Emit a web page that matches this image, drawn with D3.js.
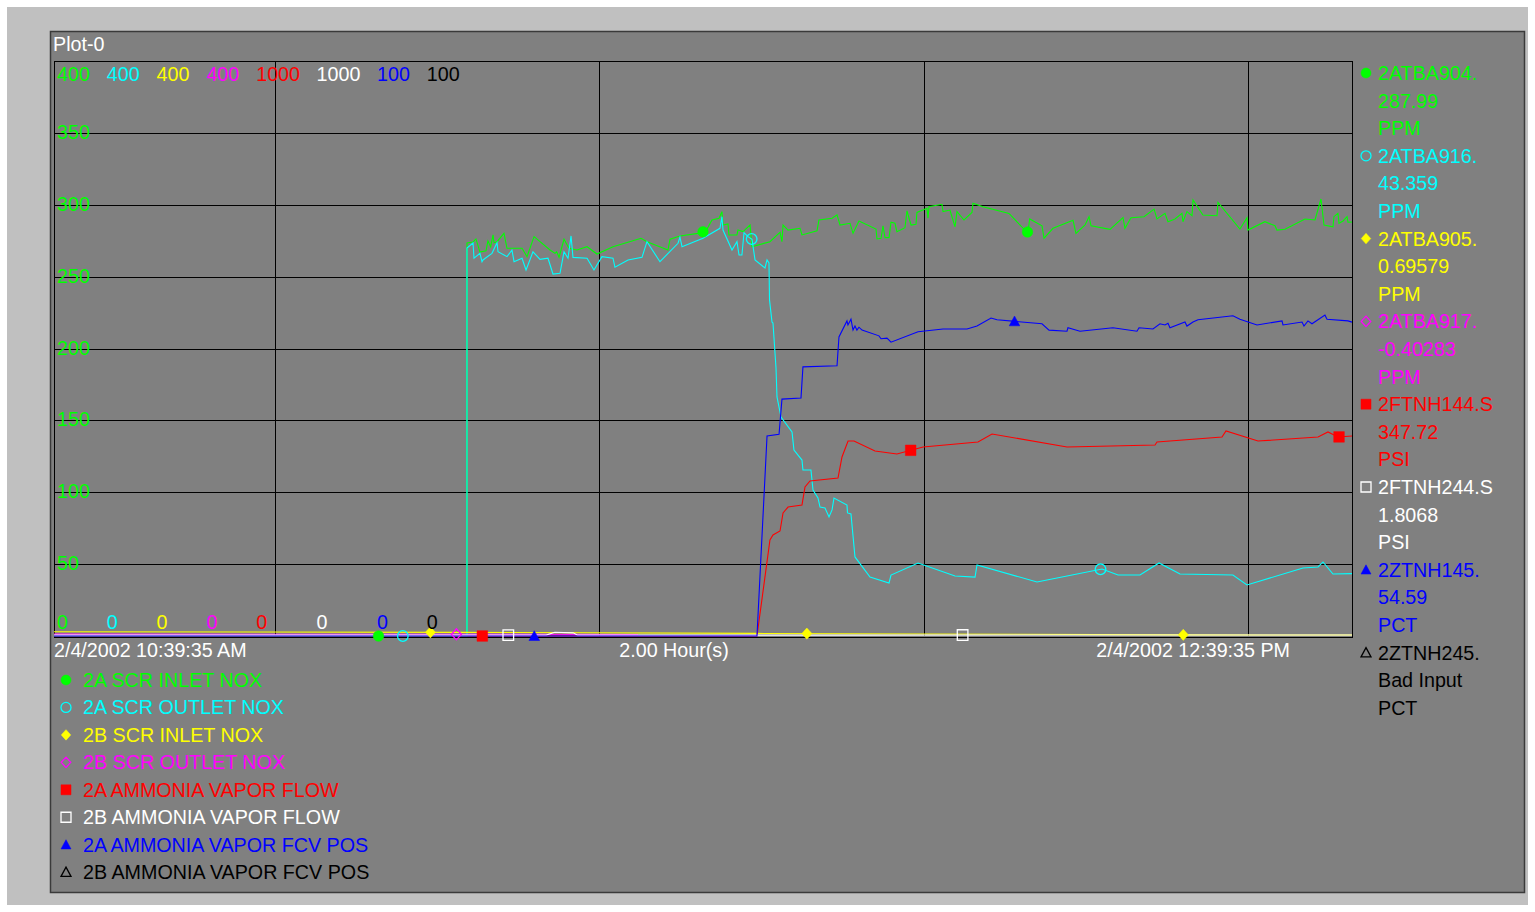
<!DOCTYPE html>
<html>
<head>
<meta charset="utf-8">
<script src="https://cdn.jsdelivr.net/npm/d3@7"></script>
<style>
  body { margin: 0; background: #ffffff; }
  svg { display: block; }
  text { font-family: "Liberation Sans", Arial, Helvetica, sans-serif; font-size: 19.7px; }
</style>
</head>
<body>
<svg id="chart" width="1535" height="912"></svg>
<script>
// ---- trend window ----
const startTime = new Date(2002, 1, 4, 10, 39, 35);
const endTime   = new Date(2002, 1, 4, 12, 39, 35);
const startLabel = "2/4/2002 10:39:35 AM";
const endLabel   = "2/4/2002 12:39:35 PM";
const spanLabel  = "2.00 Hour(s)";
const plotTitle  = "Plot-0";

// ---- pens ----
const tags = ["2ATBA904.", "2ATBA916.", "2ATBA905.", "2ATBA917.", "2FTNH144.S", "2FTNH244.S", "2ZTNH145.", "2ZTNH245."];
const currentValues = ["287.99", "43.359", "0.69579", "-0.40283", "347.72", "1.8068", "54.59", "Bad Input"];
const units = ["PPM", "PPM", "PPM", "PPM", "PSI", "PSI", "PCT", "PCT"];
const descriptions = ["2A SCR INLET NOX", "2A SCR OUTLET NOX", "2B SCR INLET NOX", "2B SCR OUTLET NOX",
                      "2A AMMONIA VAPOR FLOW", "2B AMMONIA VAPOR FLOW", "2A AMMONIA VAPOR FCV POS", "2B AMMONIA VAPOR FCV POS"];
const scaleMin = [0, 0, 0, 0, 0, 0, 0, 0];
const scaleMax = [400, 400, 400, 400, 1000, 1000, 100, 100];
const penColors = ["#00ff00", "#00ffff", "#ffff00", "#ff00ff", "#ff0000", "#ffffff", "#0000ff", "#000000"];
const penSymbols = ["circle", "circle", "diamond", "diamond", "square", "square", "triangle", "triangle"];
const penFilled = [true, false, true, false, true, false, true, false];
const markerEvery = [30, 32.25, 34.8, 37.2, 39.6, 42, 44.4, 46.8]; // minutes between trace markers
const gridValues = [50, 100, 150, 200, 250, 300, 350];

// ---- samples: [minutes after start, value] ----
const scrInletNox2A = [
  [0,0],[38.18,0],[38.18,273.4],[38.74,274.1],[39.01,276.2],[39.38,267.1],[39.94,268.0],[40.12,274.8],
  [40.37,270.8],[40.59,279.0],[40.68,273.6],[40.96,274.3],[41.60,280.1],[41.88,269.7],[43.27,269.7],
  [43.73,263.9],[44.38,277.8],[45.86,268.5],[46.32,266.2],[46.47,267.3],[46.69,263.4],[47.15,276.0],
  [47.61,269.7],[48.35,268.5],[49.28,270.8],[50.20,265.7],[51.68,270.8],[54.27,276.7],[54.82,274.3],
  [56.76,268.5],[56.95,276.0],[57.87,278.3],[59.54,280.1],[60.30,282.0],[60.83,289.4],[61.48,290.6],
  [61.75,295.2],[61.85,285.9],[62.31,286.6],[62.40,279.0],[63.14,279.0],[63.23,282.4],[63.70,281.3],
  [64.35,285.9],[64.53,270.8],[66.19,274.3],[67.12,280.8],[67.30,274.3],[67.40,285.9],[67.86,282.4],
  [68.97,283.6],[69.15,279.0],[70.54,281.9],[70.72,289.4],[71.93,290.6],[72.39,292.9],[72.67,285.9],
  [73.59,287.1],[73.87,280.1],[74.42,288.7],[75.99,283.1],[76.09,276.2],[76.46,276.7],[76.64,285.4],
  [76.83,277.1],[77.20,277.1],[77.38,287.8],[77.75,287.1],[77.93,281.3],[78.67,284.0],[78.86,295.7],
  [79.23,285.9],[79.69,286.4],[79.78,294.7],[80.71,297.5],[80.80,290.6],[80.89,298.6],[82.09,300.3],
  [82.19,295.2],[82.83,296.3],[83.30,284.7],[83.48,295.2],[84.13,289.4],[84.87,294.7],[84.96,301.0],
  [85.89,298.6],[88.29,294.0],[89.90,281.2],[90.05,281.0],[90.20,290.1],[91.34,285.4],[91.53,276.7],[92.36,283.6],
  [94.21,289.2],[94.48,280.1],[95.32,285.9],[95.69,291.7],[95.87,285.4],[97.63,282.9],[98.83,291.0],
  [99.01,283.6],[99.57,291.0],[100.77,291.7],[101.70,297.0],[101.97,290.1],[102.71,294.0],[102.99,288.2],
  [103.64,290.1],[104.28,294.0],[104.37,288.2],[104.74,295.2],[105.21,292.4],[105.30,303.3],[106.22,292.9],
  [107.52,292.4],[107.61,301.7],[109.64,283.1],[110.29,291.0],[110.38,282.4],[111.95,288.2],[112.88,285.4],
  [113.06,282.4],[113.81,282.9],[115.65,290.1],[116.58,289.4],[117.13,304.0],[117.41,285.9],[118.24,284.7],
  [118.33,291.7],[118.70,294.0],[118.80,287.1],[119.17,288.7],[119.54,291.7],[119.63,287.8],[120,288.0]
];
const scrOutletNox2A = [
  [0,0],[38.18,0],[38.18,269.9],[38.74,273.4],[38.83,262.8],[39.38,266.2],[39.57,260.4],[39.66,261.6],
  [40.49,266.2],[40.96,273.6],[41.05,267.3],[41.88,263.9],[42.34,268.5],[42.53,260.4],[43.27,262.8],
  [43.64,254.6],[44.28,267.3],[44.93,262.0],[45.67,262.8],[46.13,251.8],[46.78,252.3],[47.15,267.3],
  [47.52,262.8],[47.80,278.3],[47.98,263.4],[49.28,262.8],[49.92,254.6],[50.66,263.9],[51.68,262.8],
  [51.86,256.5],[53.07,261.6],[54.36,263.4],[54.82,274.3],[56.02,260.4],[57.69,273.2],[57.87,277.4],
  [58.06,270.8],[60.00,276.7],[61.57,283.6],[61.75,291.7],[61.85,282.4],[62.68,268.5],[63.14,274.3],
  [63.33,265.0],[63.60,265.0],[63.79,280.6],[64.16,277.8],[64.53,276.0],[64.81,261.6],[65.73,256.0],
  [65.92,261.6],[66.10,259.5],[66.15,233.7],[66.38,218.4],[66.47,217.7],[66.75,186.4],[66.84,166.3],
  [67.21,152.3],[68.23,141.9],[68.41,129.4],[69.15,122.4],[69.24,115.5],[69.98,115.5],[70.17,101.6],
  [70.63,96.0],[70.82,89.7],[71.28,89.0],[71.65,82.8],[71.93,87.7],[72.11,96.0],[73.31,91.1],
  [73.36,85.6],[73.68,84.9],[74.05,55.0],[75.44,41.0],[77.20,36.9],[77.38,42.4],[79.88,50.8],
  [83.30,41.7],[85.15,41.0],[85.33,49.4],[90.88,37.6],[96.89,46.6],[98.37,42.4],[100.40,42.4],
  [102.16,50.8],[104.10,43.1],[108.99,42.4],[110.29,35.5],[115.47,47.3],[116.86,48.0],[117.32,51.5],
  [118.24,43.1],[120,43.36]
];
const scrInletNox2B = [[0,3.0],[38,2.5],[65,1.8],[80,1.4],[104,0.8],[120,0.7]];
const scrOutletNox2B = [[0,1.3],[40,1.2],[54,1.0]];
const vaporFlow2A = [
  [0,0],[64.99,0],[66.19,167.0],[66.47,175.7],[67.12,182.6],[67.40,213.9],[67.86,224.3],[69.15,227.8],
  [69.43,259.1],[69.89,269.6],[72.48,274.8],[72.85,311.3],[73.41,339.1],[73.96,339.1],[75.90,321.7],
  [77.93,316.5],[80.34,328.7],[85.42,337.4],[86.72,351.3],[93.65,328.7],[101.79,332.2],[101.97,337.4],
  [107.98,346.1],[108.35,356.5],[111.31,339.1],[116.86,346.1],[117.78,354.8],[118.70,346.1],[120,347.7]
];
const vaporFlow2B = [[0,1.5],[45.5,1.5],[46.3,6.5],[48.0,5.5],[48.4,1.5],[75,1.6],[120,1.8]];
const fcvPos2A = [
  [0,0],[64.99,0],[65.92,34.8],[67.03,35.1],[67.30,41.2],[69.06,41.4],[69.24,46.8],[72.39,47.0],
  [72.57,52.0],[73.31,54.8],[73.40,54.1],[73.68,55.1],[73.87,53.2],[74.05,53.9],[74.23,53.2],[74.42,53.7],
  [74.70,53.2],[76.27,52.2],[76.46,51.7],[77.01,51.8],[77.38,51.1],[79.88,52.9],[82.19,53.4],[84.41,53.4],
  [85.33,53.9],[86.63,55.3],[87.18,55.0],[91.34,54.3],[91.99,53.2],[93.65,53.0],[93.74,53.6],[94.85,53.0],
  [97.90,53.6],[100.12,53.0],[100.31,53.6],[101.60,53.4],[102.25,54.3],[102.71,54.1],[102.99,54.4],
  [103.17,53.6],[104.56,54.6],[104.74,53.9],[105.30,54.6],[105.76,55.0],[108.99,55.7],[109.64,55.1],
  [111.22,54.1],[113.53,54.8],[113.62,54.1],[115.38,54.6],[115.56,53.9],[115.93,54.8],[116.30,54.3],
  [117.50,55.8],[117.69,55.1],[119.63,54.8],[120,54.59]
];
const fcvPos2B = []; // bad input, no samples

const penData = [scrInletNox2A, scrOutletNox2A, scrInletNox2B, scrOutletNox2B,
                 vaporFlow2A, vaporFlow2B, fcvPos2A, fcvPos2B];

// ---- layout ----
const W = 1535, H = 912;
const frame = { x: 7, y: 7, w: 1521, h: 898 };
const panel = { x: 50, y: 31, w: 1474, h: 861 };
const plot = { left: 54, top: 61, right: 1352, bottom: 636 };

const svg = d3.select("#chart");
const atMinute = m => new Date(startTime.getTime() + m * 60000);

const x = d3.scaleTime().domain([startTime, endTime]).range([plot.left, plot.right]);
const yScales = scaleMax.map((mx, i) => d3.scaleLinear().domain([scaleMin[i], mx]).range([plot.bottom, plot.top]));

svg.append("rect").attr("x", 0).attr("y", 0).attr("width", W).attr("height", H).attr("fill", "#ffffff");
svg.append("rect").attr("x", frame.x).attr("y", frame.y).attr("width", frame.w).attr("height", frame.h).attr("fill", "#c0c0c0");
svg.append("rect").attr("x", panel.x + 0.5).attr("y", panel.y + 0.5).attr("width", panel.w).attr("height", panel.h)
  .attr("fill", "#808080").attr("stroke", "#3a3a3a").attr("stroke-width", 1.5);

svg.append("text").attr("x", 53).attr("y", 51).attr("fill", "#ffffff").text(plotTitle);

// grid
const grid = svg.append("g").attr("shape-rendering", "crispEdges").attr("stroke", "#000").attr("stroke-width", 1);
gridValues.forEach(v => {
  const yy = Math.round(yScales[0](v)) + 0.5;
  grid.append("line").attr("x1", plot.left).attr("x2", plot.right).attr("y1", yy).attr("y2", yy);
});
x.ticks(d3.timeMinute.every(30)).forEach(t => {
  const xx = Math.round(x(t)) + 0.5;
  grid.append("line").attr("x1", xx).attr("x2", xx).attr("y1", plot.top).attr("y2", plot.bottom);
});
grid.append("rect").attr("x", plot.left + 0.5).attr("y", plot.top + 0.5)
  .attr("width", plot.right - plot.left).attr("height", plot.bottom - plot.top + 1).attr("fill", "none");

// pen traces
const traces = svg.append("g").attr("fill", "none").attr("stroke-width", 1.1);
penData.forEach((data, i) => {
  if (!data.length) return;
  const line = d3.line().x(d => x(atMinute(d[0]))).y(d => yScales[i](d[1]));
  traces.append("path").datum(data).attr("d", line).attr("stroke", penColors[i]);
});

// marker shapes
function symbolPath(kind, cx, cy, s) {
  const p = d3.path();
  if (kind === "circle") { p.moveTo(cx + s, cy); p.arc(cx, cy, s, 0, 2 * Math.PI); }
  else if (kind === "square") { p.rect(cx - s, cy - s, 2 * s, 2 * s); }
  else if (kind === "diamond") { p.moveTo(cx, cy - s * 1.05); p.lineTo(cx + s * 0.95, cy); p.lineTo(cx, cy + s * 1.05); p.lineTo(cx - s * 0.95, cy); p.closePath(); }
  else if (kind === "triangle") { p.moveTo(cx, cy - s); p.lineTo(cx + s, cy + s * 0.85); p.lineTo(cx - s, cy + s * 0.85); p.closePath(); }
  return p.toString();
}
function drawMarker(g, i, cx, cy, s) {
  const filled = penFilled[i];
  g.append("path").attr("d", symbolPath(penSymbols[i], cx, cy, s))
    .attr("fill", filled ? penColors[i] : "none")
    .attr("stroke", penColors[i]).attr("stroke-width", filled ? 0.5 : 1.3);
}

// value of a trace at a given minute (linear between samples)
function valueAt(data, m) {
  const idx = d3.bisector(d => d[0]).right(data, m);
  if (idx <= 0) return data[0][1];
  if (idx >= data.length) return data[data.length - 1][1];
  const a = data[idx - 1], b = data[idx];
  if (b[0] === a[0]) return b[1];
  return a[1] + (b[1] - a[1]) * (m - a[0]) / (b[0] - a[0]);
}

// markers along each trace
const marks = svg.append("g");
penData.forEach((data, i) => {
  if (!data.length) return;
  const step = markerEvery[i];
  const last = data[data.length - 1][0];
  for (let m = step; m < Math.min(120, last + 0.01); m += step) {
    drawMarker(marks, i, x(atMinute(m)), yScales[i](valueAt(data, m)), 5.3);
  }
});

// scale range labels (top = max, bottom = min) laid out in a row
const scaleLabels = svg.append("g");
let lx = 57;
scaleMax.forEach((mx, i) => {
  scaleLabels.append("text").attr("x", lx).attr("y", 81).attr("fill", penColors[i]).text(mx);
  scaleLabels.append("text").attr("x", lx).attr("y", 629).attr("fill", penColors[i]).text(scaleMin[i]);
  lx += String(mx).length * 10.6 + 18;
});
// intermediate labels of the first pen's scale
gridValues.forEach(v => {
  scaleLabels.append("text").attr("x", 57).attr("y", yScales[0](v) + 6).attr("fill", penColors[0]).text(v);
});

// time labels
svg.append("text").attr("x", 54).attr("y", 657).attr("fill", "#ffffff").text(startLabel);
svg.append("text").attr("x", 674).attr("y", 657).attr("fill", "#ffffff").attr("text-anchor", "middle").text(spanLabel);
svg.append("text").attr("x", 1290).attr("y", 657).attr("fill", "#ffffff").attr("text-anchor", "end").text(endLabel);

// description legend under the plot
const descLegend = svg.append("g");
descriptions.forEach((d, i) => {
  const by = 687 + i * 27.45;
  drawMarker(descLegend, i, 66, by - 7, 5);
  descLegend.append("text").attr("x", 83).attr("y", by).attr("fill", penColors[i]).text(d);
});

// tag / value / unit legend on the right
const tagLegend = svg.append("g");
tags.forEach((t, i) => {
  const by = 80 + i * 3 * 27.6;
  drawMarker(tagLegend, i, 1366, by - 7, 5);
  [t, currentValues[i], units[i]].forEach((s, k) => {
    tagLegend.append("text").attr("x", 1378).attr("y", by + k * 27.6).attr("fill", penColors[i]).text(s);
  });
});
</script>
</body>
</html>
